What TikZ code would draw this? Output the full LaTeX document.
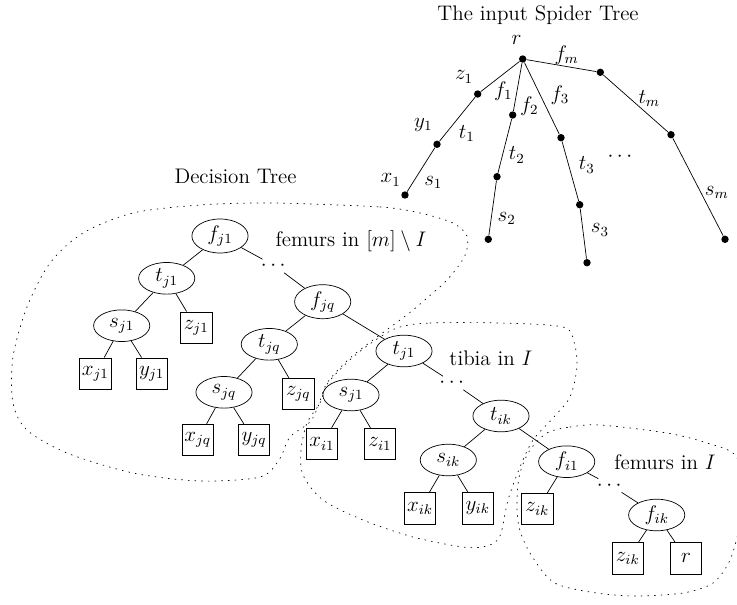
\documentclass[tikz,border=0pt]{standalone}
\usepackage{amsmath}
\usepackage{amssymb}
\usepackage{tikz}
\usetikzlibrary{shapes.geometric}
\usetikzlibrary{positioning}
\tikzset{circ/.style = {fill, circle, inner sep = 0, minimum size = 4.2}}
\tikzset{dnode/.style = {draw, ellipse, inner sep = 1, minimum width = 32, minimum height = 18}}
\tikzset{leaf/.style = {draw, rectangle, inner sep = 1, minimum size = 18}}
\tikzset{gap/.style = {inner sep = 1}}
\tikzset{lbl/.style = {inner sep = 1}}
\tikzset{blob/.style = {dash pattern = on 0.6pt off 3.2pt, line cap = round}}

\begin{document}
\begin{tikzpicture}[x = 0.02cm, y = -0.02cm, font = \fontsize{12}{14}\selectfont]
    \useasboundingbox (0, 0) rectangle (737, 605);
    % the input spider tree
    \node [lbl] (spidertitle) at (538, 15) {The input Spider Tree};
    \node [circ] (r) at (522.7, 59) {};
    \node [circ] (z1) at (477.7, 94) {};
    \node [circ] (y1) at (437, 144.3) {};
    \node [circ] (x1) at (405, 195) {};
    \node [circ] (a2) at (512.7, 115) {};
    \node [circ] (b2) at (497, 176.7) {};
    \node [circ] (c2) at (488.3, 239.3) {};
    \node [circ] (a3) at (561, 137.7) {};
    \node [circ] (b3) at (579.7, 204.7) {};
    \node [circ] (c3) at (587, 262.7) {};
    \node [circ] (am) at (600.3, 72.3) {};
    \node [circ] (bm) at (671, 134.7) {};
    \node [circ] (cm) at (725, 239.3) {};
    \draw (r) -- (z1) -- (y1) -- (x1);
    \draw (r) -- (a2) -- (b2) -- (c2);
    \draw (r) -- (a3) -- (b3) -- (c3);
    \draw (r) -- (am) -- (bm) -- (cm);
    \node [lbl] (lr) at (516.5, 40) {$r$};
    \node [lbl] (lz1) at (464, 77) {$z_1$};
    \node [lbl] (lf1) at (503.3, 91) {$f_1$};
    \node [lbl] (ly1) at (423.3, 125) {$y_1$};
    \node [lbl] (lt1) at (466.7, 133.3) {$t_1$};
    \node [lbl] (lx1) at (390.7, 180) {$x_1$};
    \node [lbl] (ls1) at (433.3, 182.7) {$s_1$};
    \node [lbl] (lf2) at (529.3, 106) {$f_2$};
    \node [lbl] (lt2) at (516.7, 155) {$t_2$};
    \node [lbl] (ls2) at (506.7, 218.3) {$s_2$};
    \node [lbl] (lf3) at (560, 95) {$f_3$};
    \node [lbl] (lt3) at (586.7, 165) {$t_3$};
    \node [lbl] (ls3) at (600, 230) {$s_3$};
    \node [lbl] (ldots) at (621.7, 157) {$\cdots$};
    \node [lbl] (lfm) at (566.7, 55) {$f_m$};
    \node [lbl] (ltm) at (649.3, 98.3) {$t_m$};
    \node [lbl] (lsm) at (716.7, 192.7) {$s_m$};

    % the decision tree
    \node [lbl] (dtitle) at (235.5, 176.7) {Decision Tree};
    \node [dnode] (fj1) at (220, 236) {$f_{j1}$};
    \node [gap] (dotsA) at (275, 266) {$\cdots$};
    \node [dnode] (tj1) at (166.7, 278.3) {$t_{j1}$};
    \node [dnode] (fjq) at (322.7, 301.7) {$f_{jq}$};
    \node [dnode] (sj1) at (121.7, 325.7) {$s_{j1}$};
    \node [leaf] (zj1) at (196.3, 327.7) {$z_{j1}$};
    \node [dnode] (tjq) at (269.3, 344.3) {$t_{jq}$};
    \node [leaf] (xj1) at (95.3, 373.7) {$x_{j1}$};
    \node [leaf] (yj1) at (151.7, 373.7) {$y_{j1}$};
    \node [dnode] (sjq) at (224, 392.3) {$s_{jq}$};
    \node [leaf] (zjq) at (298.3, 394) {$z_{jq}$};
    \node [leaf] (xjq) at (197.7, 440) {$x_{jq}$};
    \node [leaf] (yjq) at (254, 440) {$y_{jq}$};
    \node [dnode] (ti1) at (404, 351) {$t_{j1}$};
    \node [dnode] (si1) at (351, 395) {$s_{j1}$};
    \node [leaf] (xi1) at (322, 444) {$x_{i1}$};
    \node [leaf] (zi1) at (380, 444) {$z_{i1}$};
    \node [gap] (dotsB) at (453.5, 383) {$\cdots$};
    \node [dnode] (tik) at (501, 416) {$t_{ik}$};
    \node [dnode] (sik) at (448.3, 460) {$s_{ik}$};
    \node [leaf] (xik) at (420, 508.3) {$x_{ik}$};
    \node [leaf] (yik) at (477.7, 508.3) {$y_{ik}$};
    \node [dnode] (fi1) at (566.7, 461.7) {$f_{i1}$};
    \node [leaf] (zik) at (537.3, 509) {$z_{ik}$};
    \node [gap] (dotsC) at (611, 485.5) {$\cdots$};
    \node [dnode] (fik) at (656.7, 515) {$f_{ik}$};
    \node [leaf] (zik2) at (627.7, 558.3) {$z_{ik}$};
    \node [leaf] (rleaf) at (686, 558.3) {$r$};
    \draw (fj1) -- (tj1);
    \draw (fj1) -- (dotsA) -- (fjq);
    \draw (tj1) -- (sj1);
    \draw (tj1) -- (zj1);
    \draw (sj1) -- (xj1);
    \draw (sj1) -- (yj1);
    \draw (fjq) -- (tjq);
    \draw (fjq) -- (ti1);
    \draw (tjq) -- (sjq);
    \draw (tjq) -- (zjq);
    \draw (sjq) -- (xjq);
    \draw (sjq) -- (yjq);
    \draw (ti1) -- (si1);
    \draw (ti1) -- (dotsB) -- (tik);
    \draw (si1) -- (xi1);
    \draw (si1) -- (zi1);
    \draw (tik) -- (sik);
    \draw (tik) -- (fi1);
    \draw (sik) -- (xik);
    \draw (sik) -- (yik);
    \draw (fi1) -- (zik);
    \draw (fi1) -- (dotsC) -- (fik);
    \draw (fik) -- (zik2);
    \draw (fik) -- (rleaf);

    % groups
    \node [lbl] (gfem) at (351, 241.7) {femurs in $[m] \setminus I$};
    \node [lbl] (gtib) at (491, 358.3) {tibia in $I$};
    \node [lbl] (gfemi) at (665, 462.5) {femurs in $I$};
    \draw [blob] plot [smooth cycle] coordinates {(273, 203) (380, 207) (420, 213) (453, 223) (467, 236)
        (466, 253) (457, 268) (444, 283) (427, 298) (408, 314) (377, 337) (349, 359) (327, 383)
        (319, 404) (310, 422) (290, 437) (279, 460) (260, 477) (200, 481) (133, 473) (67, 453)
        (27, 430) (13, 403) (13, 357) (27, 307) (50, 263) (83, 233) (133, 213) (200, 205)};
    \draw [blob] plot [smooth cycle] coordinates {(400, 327) (430, 323) (500, 323) (563, 327) (574, 342)
        (577, 367) (570, 397) (553, 418) (533, 440) (520, 467) (508, 500) (500, 536) (487, 546)
        (463, 547) (413, 537) (363, 520) (323, 500) (303, 475) (301, 450) (307, 423) (320, 403)
        (328, 383) (353, 357) (380, 337)};
    \draw [blob] plot [smooth cycle] coordinates {(547, 433) (570, 427) (600, 425) (667, 433) (707, 443)
        (735, 455) (746, 490) (740, 525) (730, 560) (713, 583) (683, 593) (633, 596) (590, 592)
        (553, 582) (530, 553) (519, 527) (517, 500) (520, 473) (530, 450)};
\end{tikzpicture}
\end{document}
